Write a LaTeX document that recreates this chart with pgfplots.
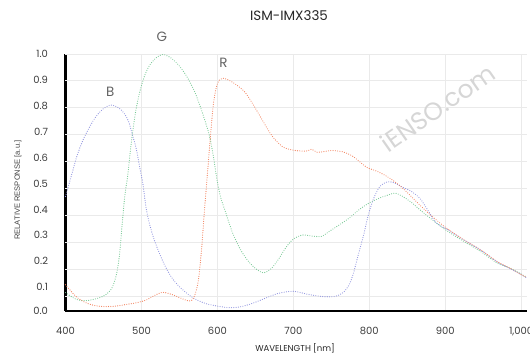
\documentclass[border=0pt]{standalone}
\usepackage{pgfplots}
\pgfplotsset{compat=1.18}
\usepackage{fontspec}
\setmainfont{Poppins}
\newfontfamily\arialf{Liberation Sans}
\definecolor{cB}{RGB}{142,146,222}
\definecolor{cG}{RGB}{118,200,148}
\definecolor{cR}{RGB}{242,128,92}
\definecolor{gridc}{RGB}{234,234,234}
\definecolor{tickc}{RGB}{60,60,60}
\definecolor{lblc}{RGB}{100,100,100}
\definecolor{wmc}{RGB}{214,214,214}
\begin{document}
\begin{tikzpicture}
\useasboundingbox (-65.5bp,-45.1bp) rectangle (464.5bp,310.9bp);
\begin{axis}[
  scale only axis,
  width=461.8bp, height=256.9bp,
  xmin=400, xmax=1008, ymin=0.045, ymax=1.0,
  axis x line=bottom, axis y line=left,
  axis line style={-, line width=2.6bp, black},
  x axis line style={-}, y axis line style={-},
  major tick length=0pt,
  xtick={400,500,600,700,800,900,1000},
  xmajorgrids=true,
  ytick={0.045,0.1335,0.2298,0.3260,0.4223,0.5186,0.6149,0.7112,0.8074,0.9037,1.0},
  yticklabels={0.0,0.1,0.2,0.3,0.4,0.5,0.6,0.7,0.8,0.9,1.0},
  extra y ticks={0.1,0.2,0.3,0.4,0.5,0.6,0.7,0.8,0.9,1.0},
  extra y tick labels={},
  extra y tick style={ymajorgrids=true, major tick length=0pt},
  grid style={gridc, line width=0.8bp},
  /pgf/number format/assume math mode=true,
  xticklabel style={font=\fontsize{10}{12}\selectfont, text=tickc, yshift=-12.5bp},
  yticklabel style={font=\fontsize{10}{12}\selectfont, text=tickc, xshift=-14bp},
  xlabel={WAVELENGTH [nm]},
  xlabel style={font=\fontsize{8.6}{10}\selectfont, text=black!85, at={(axis description cs:0.497,-0.146)}, anchor=center},
  ylabel={\arialf RELATIVE RESPONSE [a.u.]},
  ylabel style={font=\fontsize{7.6}{9}\selectfont, text=black!75, at={(axis description cs:-0.103,0.47)}, anchor=center, rotate=0},
  title={ISM-IMX335},
  title style={font=\fontsize{13.5}{15}\selectfont, text=black!85, at={(axis description cs:0.484,1.125)}, anchor=center},
  clip=false,
  every axis plot/.style={smooth, tension=0.5, line width=1.15bp, line cap=round, dash pattern=on 0pt off 2.3bp},
]
\node[rotate=35, text=wmc, font=\fontsize{25}{27}\selectfont] at (axis cs:890,0.80) {iENSO.com};

% G
\addplot[cG] coordinates {
(400,0.113) (414,0.088) (427,0.083) (440,0.090) (450,0.100) (457,0.115) (462,0.135) (467,0.18) (471,0.25) (475,0.38) (478,0.47) (482,0.55) (485,0.63) (488,0.70) (492,0.78) (497,0.85) (503,0.91) (510,0.955) (519,0.985) (528,0.998) (539,0.985) (550,0.955) (560,0.915) (570,0.86) (578,0.80) (585,0.74) (590,0.69) (595,0.615) (599,0.54) (604,0.47) (611,0.41) (620,0.335) (630,0.275) (640,0.232) (650,0.203) (660,0.187) (670,0.200) (680,0.235) (690,0.28) (700,0.312) (712,0.327) (725,0.323) (737,0.322) (747,0.340) (760,0.364) (773,0.389) (786,0.420) (799,0.445) (813,0.464) (826,0.477) (834,0.483) (843,0.472) (856,0.447) (867,0.420) (880,0.390) (900,0.347) (924,0.304) (946,0.267) (968,0.223) (985,0.205) (1000,0.182) (1007,0.170)
};
% B
\addplot[cB] coordinates {
(400,0.47) (407,0.54) (415,0.62) (423,0.68) (432,0.73) (440,0.767) (450,0.797) (460,0.810) (470,0.800) (477,0.780) (483,0.750) (488,0.700) (493,0.650) (497,0.590) (502,0.515) (506,0.43) (510,0.375) (515,0.325) (520,0.285) (530,0.218) (540,0.168) (550,0.135) (560,0.110) (570,0.090) (585,0.072) (600,0.063) (615,0.057) (630,0.060) (645,0.072) (663,0.092) (680,0.110) (700,0.118) (720,0.106) (740,0.098) (755,0.099) (765,0.112) (773,0.140) (779,0.184) (786,0.259) (793,0.333) (799,0.405) (806,0.465) (814,0.508) (823,0.524) (832,0.522) (845,0.503) (855,0.490) (867,0.462) (878,0.415) (888,0.372) (900,0.352) (924,0.310) (946,0.272) (968,0.228) (985,0.203) (1000,0.180) (1007,0.168)
};
% R
\addplot[cR] coordinates {
(400,0.142) (414,0.098) (427,0.075) (440,0.064) (453,0.061) (467,0.063) (480,0.069) (493,0.075) (506,0.085) (517,0.102) (528,0.114) (541,0.105) (554,0.090) (562,0.082) (567,0.086) (571,0.110) (575,0.160) (579,0.270) (583,0.420) (587,0.560) (591,0.700) (595,0.820) (600,0.890) (607,0.910) (620,0.895) (635,0.862) (646,0.817) (659,0.755) (672,0.695) (686,0.655) (699,0.643) (712,0.639) (719,0.640) (724,0.646) (731,0.635) (740,0.637) (750,0.641) (764,0.637) (777,0.622) (788,0.598) (797,0.578) (811,0.563) (826,0.540) (839,0.513) (850,0.485) (863,0.448) (880,0.403) (900,0.356) (924,0.310) (946,0.273) (968,0.229) (985,0.204) (1000,0.180) (1007,0.169)
};

\node[text=lblc, font=\fontsize{13.5}{15}\selectfont] at (axis cs:459,0.859) {B};
\node[text=lblc, font=\fontsize{13.5}{15}\selectfont] at (axis cs:527,1.063) {G};
\node[text=lblc, font=\fontsize{13.5}{15}\selectfont] at (axis cs:608,0.967) {R};
\end{axis}
\end{tikzpicture}
\end{document}
